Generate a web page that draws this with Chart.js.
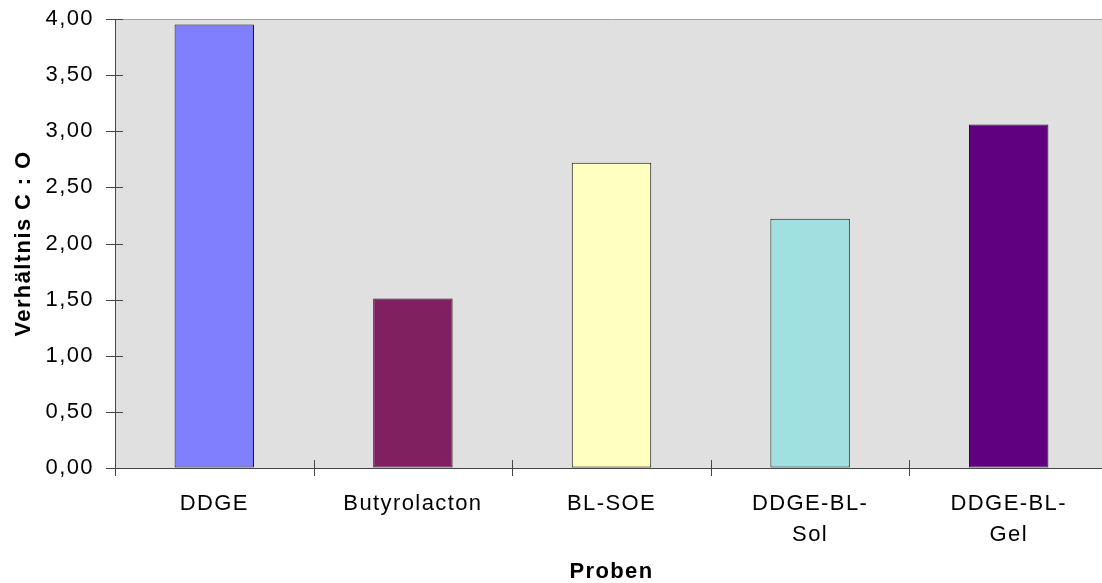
<!DOCTYPE html>
<html>
<head>
<meta charset="utf-8">
<script src="https://cdn.jsdelivr.net/npm/chart.js@4/dist/chart.umd.min.js"></script>
<style>
  html, body { margin: 0; padding: 0; background: #ffffff; overflow: hidden; }
  canvas { display: block; }
</style>
</head>
<body>
<canvas id="chart" width="1108" height="583"></canvas>
<script>
// Samples and their carbon : oxygen ratio
const categories = ['DDGE', 'Butyrolacton', 'BL-SOE', ['DDGE-BL-', 'Sol'], ['DDGE-BL-', 'Gel']];
const ratioCO = [3.95, 1.51, 2.72, 2.22, 3.06];
const barColors = ['#8080FF', '#802060', '#FFFFC0', '#A0E0E0', '#600080'];
const yTickValues = [0, 0.5, 1, 1.5, 2, 2.5, 3, 3.5, 4];
const yTitle = 'Verhältnis C : O';
const xTitle = 'Proben';

const FONT = "'Liberation Sans', Arial, Helvetica, sans-serif";
const AXIS_COLOR = '#444444';

// Slightly widened text spacing for all labels
const letterSpacingPlugin = {
  id: 'letterSpacing',
  beforeInit(chart) {
    const ctx = chart.ctx;
    const setSpacing = () => { ctx.letterSpacing = '1.4px'; };
    const fill = ctx.fillText.bind(ctx);
    const measure = ctx.measureText.bind(ctx);
    ctx.fillText = (...args) => { setSpacing(); return fill(...args); };
    ctx.measureText = (...args) => { setSpacing(); return measure(...args); };
  }
};

// Grey plot background, top border and tick marks crossing both axes
const framePlugin = {
  id: 'frame',
  beforeDraw(chart) {
    const { ctx, chartArea: a } = chart;
    ctx.save();
    ctx.fillStyle = '#E0E0E0';
    ctx.fillRect(a.left, a.top, a.right - a.left, a.bottom - a.top);
    ctx.strokeStyle = '#A0A0A0';
    ctx.lineWidth = 1;
    ctx.beginPath();
    ctx.moveTo(a.left, Math.round(a.top) + 0.5);
    ctx.lineTo(a.right, Math.round(a.top) + 0.5);
    ctx.stroke();
    ctx.restore();
  },
  afterDraw(chart) {
    const ctx = chart.ctx;
    const x = chart.scales.x, y = chart.scales.y;
    ctx.save();
    ctx.strokeStyle = AXIS_COLOR;
    ctx.lineWidth = 1;
    ctx.beginPath();
    y.ticks.forEach((t, i) => {
      const py = Math.round(y.getPixelForTick(i)) + 0.5;
      ctx.moveTo(y.right - 9, py);
      ctx.lineTo(y.right + 8, py);
    });
    for (let i = 0; i <= categories.length; i++) {
      const px = Math.round(x.getPixelForValue(i - 0.5)) + 0.5;
      ctx.moveTo(px, x.top - 8);
      ctx.lineTo(px, x.top + 8);
    }
    ctx.stroke();
    ctx.restore();
  }
};

new Chart(document.getElementById('chart'), {
  type: 'bar',
  data: {
    labels: categories,
    datasets: [{
      data: ratioCO,
      backgroundColor: barColors,
      borderColor: '#1a1a1a',
      borderWidth: 1,
      borderSkipped: false,
      barPercentage: 0.4,
      categoryPercentage: 1
    }]
  },
  options: {
    responsive: false,
    animation: false,
    layout: { padding: { top: 19, right: 0, bottom: 0, left: 0 } },
    plugins: {
      legend: { display: false },
      tooltip: { enabled: false }
    },
    scales: {
      x: {
        offset: true,
        grid: { display: true, drawOnChartArea: false, drawTicks: false, offset: true },
        border: { display: true, color: AXIS_COLOR, width: 1 },
        ticks: {
          color: '#000000',
          font: { family: FONT, size: 22, lineHeight: 1.41 },
          padding: 20.5,
          maxRotation: 0,
          autoSkip: false
        },
        title: {
          display: true,
          text: xTitle,
          color: '#000000',
          font: { family: FONT, size: 22, weight: 'bold', lineHeight: 1.0 },
          padding: { top: 0, bottom: 0 }
        },
        afterFit(scale) {
          scale.height = 115;
          scale.paddingLeft = 0;
          scale.paddingRight = 0;
        }
      },
      y: {
        min: 0,
        max: 4,
        afterBuildTicks(scale) { scale.ticks = yTickValues.map(v => ({ value: v })); },
        grid: { display: true, drawOnChartArea: false, drawTicks: false },
        border: { display: true, color: AXIS_COLOR, width: 1 },
        ticks: {
          color: '#000000',
          font: { family: FONT, size: 22 },
          padding: 21,
          callback: (v) => Number(v).toFixed(2).replace('.', ',')
        },
        title: {
          display: true,
          text: yTitle,
          color: '#000000',
          font: { family: FONT, size: 22, weight: 'bold' },
          padding: { top: 11, bottom: 0 }
        },
        afterFit(scale) {
          scale.width = 115;
          scale.paddingTop = 0;
          scale.paddingBottom = 0;
        }
      }
    }
  },
  plugins: [letterSpacingPlugin, framePlugin]
});
</script>
</body>
</html>
